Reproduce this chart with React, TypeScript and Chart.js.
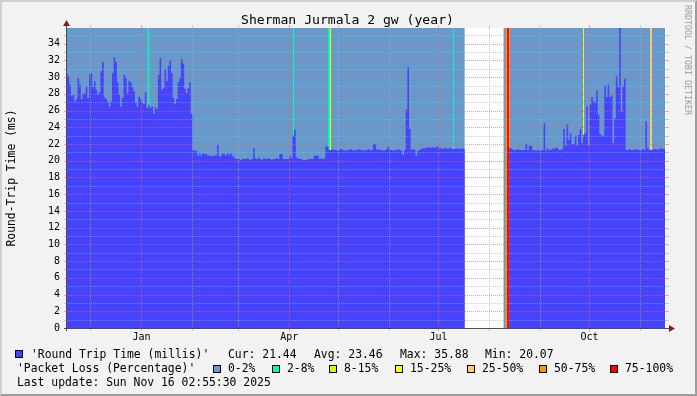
import React, { useEffect, useRef } from "react";
import { Chart, registerables } from "chart.js";

Chart.register(...registerables);

// ---------------- text ----------------
const TITLE = "Sherman Jurmala 2 gw (year)";
const Y_TITLE = "Round-Trip Time (ms)";
const WATERMARK = "RRDTOOL / TOBI OETIKER";
const RTT_LABEL = "'Round Trip Time (millis)'";
const LOSS_LABEL = "'Packet Loss (Percentage)'";
const LAST_UPDATE = "Last update: Sun Nov 16 02:55:30 2025";
const STATS = ["Cur: 21.44", "Avg: 23.46", "Max: 35.88", "Min: 20.07"];

// ---------------- axes ----------------
// x in days since Nov 16 2024
const X_MIN = 0.6;
const X_MAX = 365.6;
const Y_MAX = 35.88;
const MONTH_DAYS = [15, 46, 77, 105, 136, 166, 197, 227, 258, 289, 319, 350];
const MONTH_NAMES = ["Dec", "Jan", "Feb", "Mar", "Apr", "May", "Jun", "Jul", "Aug", "Sep", "Oct", "Nov"];
const LABELLED_MONTHS = ["Jan", "Apr", "Jul", "Oct"];
const Y_TICKS = [0, 2, 4, 6, 8, 10, 12, 14, 16, 18, 20, 22, 24, 26, 28, 30, 32, 34];

// ---------------- data: daily round trip time (ms) ----------------
// days 0..76
const RTT_A = [
  30.4, 30.1, 29.1, 27.7, 27.9, 27.1, 27.4, 29.9, 29.1, 27.4,
  28.0, 28.1, 28.9, 27.5, 30.3, 30.5, 28.8, 29.5, 28.5, 27.9,
  28.2, 30.7, 31.8, 27.6, 27.4, 27.1, 26.5, 27.1, 30.5, 32.4,
  31.8, 29.4, 27.9, 26.5, 27.5, 30.3, 29.9, 28.1, 29.5, 29.4,
  28.8, 28.3, 27.0, 26.5, 27.7, 27.4, 26.9, 26.8, 28.2, 26.3,
  26.7, 26.3, 26.5, 25.6, 26.4, 26.2, 30.3, 32.3, 28.5, 28.7,
  31.0, 29.5, 31.3, 32.0, 30.5, 27.5, 26.8, 27.4, 29.4, 29.9,
  32.2, 31.6, 28.6, 28.1, 28.7, 29.4, 25.6,
];
// days 77..160
const RTT_B = [
  21.3, 21.2, 21.2, 20.6, 20.9, 20.6, 20.9, 20.8, 20.8, 20.6,
  20.7, 20.5, 20.6, 20.6, 20.7, 21.9, 20.5, 20.6, 20.9, 20.8,
  20.6, 20.9, 20.7, 20.9, 20.6, 20.4, 20.2, 20.2, 20.2, 20.1,
  20.2, 20.2, 20.2, 20.3, 20.2, 20.1, 20.2, 21.5, 20.3, 20.2,
  20.4, 20.2, 20.1, 20.3, 20.2, 20.2, 20.3, 20.2, 20.1, 20.2,
  20.2, 20.3, 20.2, 20.8, 20.8, 20.2, 20.2, 20.2, 20.2, 20.6,
  20.3, 23.0, 23.7, 20.4, 20.3, 20.2, 20.2, 20.1, 20.1, 20.1,
  20.2, 20.2, 20.2, 20.2, 20.6, 20.6, 20.6, 20.2, 20.3, 20.2,
  20.3, 21.7, 21.7, 21.3,
];
// days 161..242
const RTT_C = [
  21.3, 21.4, 21.3, 21.3, 21.2, 21.3, 21.4, 21.3, 21.3, 21.2,
  21.3, 21.3, 21.4, 21.3, 21.2, 21.3, 21.3, 21.4, 21.3, 21.3,
  21.2, 21.3, 21.3, 21.4, 21.3, 21.3, 22.0, 22.0, 21.3, 21.4,
  21.3, 21.3, 21.2, 21.3, 21.4, 21.7, 21.3, 21.3, 21.2, 21.3,
  21.3, 21.4, 21.3, 21.2, 20.7, 21.3, 26.1, 31.2, 23.8, 21.3,
  21.4, 21.3, 20.6, 21.2, 21.3, 21.4, 21.5, 21.5, 21.6, 21.6,
  21.6, 21.6, 21.6, 21.6, 21.6, 21.7, 21.5, 21.5, 21.4, 21.5,
  21.5, 21.4, 21.5, 21.5, 21.4, 21.4, 21.4, 21.5, 21.4, 21.4,
  21.5, 21.4,
];
// days 243..269: no data
const RTT_GAP_DAYS = 27;
// days 270..364
const RTT_D = [
  21.5, 21.5, 21.3, 21.3, 21.3, 21.4, 21.3, 21.3, 21.3, 21.3,
  22.0, 21.3, 21.8, 21.8, 21.3, 21.3, 21.2, 21.3, 21.2, 21.3,
  21.3, 24.5, 21.2, 21.5, 21.3, 21.3, 21.5, 21.4, 21.6, 21.5,
  21.3, 21.3, 21.4, 23.8, 21.8, 24.3, 22.5, 23.3, 22.0, 22.0,
  23.0, 21.8, 23.1, 23.8, 22.1, 23.1, 23.3, 26.5, 21.8, 26.7,
  27.6, 27.1, 27.0, 28.4, 25.5, 23.2, 23.0, 23.0, 29.0, 27.6,
  29.1, 27.6, 27.8, 22.1, 25.1, 30.1, 28.8, 35.88, 25.9, 28.9,
  29.8, 21.3, 21.3, 21.4, 21.3, 21.3, 21.3, 21.4, 21.3, 21.3,
  21.3, 21.4, 21.3, 24.7, 21.5, 21.3, 21.3, 21.3, 21.4, 21.4,
  21.3, 21.4, 21.5, 21.4, 21.44,
];

// ---------------- data: packet loss class, as [startDay, endDay] spans ----------------
const LOSS_0_2 = [[0, 243], [266.5, 365]];
const LOSS_2_8 = [[49.6, 50.8], [138.3, 139.1], [159.5, 160.9], [235.8, 236.4]];
const LOSS_8_15: number[][] = [];
const LOSS_15_25 = [[160.9, 161.5], [315.0, 315.6]];
const LOSS_25_50 = [[355.9, 357.1]];
const LOSS_50_75 = [[267.7, 268.7], [269.9, 270.5]];
const LOSS_75_100 = [[268.7, 269.9]];

// ---------------- colours ----------------
const RTT_COLOR = "#4444ff";
const LOSS_CLASSES = [
  { label: "0-2%", color: "#6699cc", spans: LOSS_0_2 },
  { label: "2-8%", color: "#00ffaa", spans: LOSS_2_8 },
  { label: "8-15%", color: "#ccff00", spans: LOSS_8_15 },
  { label: "15-25%", color: "#ffff00", spans: LOSS_15_25 },
  { label: "25-50%", color: "#ffcc66", spans: LOSS_25_50 },
  { label: "50-75%", color: "#ff9900", spans: LOSS_50_75 },
  { label: "75-100%", color: "#ff0000", spans: LOSS_75_100 },
];
const GRID = "rgba(170,170,170,0.6)";
const MGRID = "rgba(255,90,90,0.6)";
const AXIS = "#4d4d4d";
const ARROW = "#7f1f1f";
const FONT = "'DejaVu Sans Mono', monospace";

// ---------------- builders ----------------
function stepPoints(values: (number | null)[], startDay: number) {
  const pts: { x: number; y: number | null }[] = [];
  values.forEach((v, i) => {
    const d = startDay + i;
    pts.push({ x: d, y: v });
    const next = values[i + 1];
    if (v !== null && (next === undefined || next === null)) {
      pts.push({ x: d + 1, y: v });
      pts.push({ x: d + 1, y: null });
    }
  });
  return pts;
}

function spanPoints(spans: number[][]) {
  const pts: { x: number; y: number | null }[] = [];
  spans.forEach(([s, e]) => {
    pts.push({ x: s, y: Y_MAX }, { x: e, y: Y_MAX }, { x: e, y: null });
  });
  return pts;
}

const RTT_ALL: (number | null)[] = [
  ...RTT_A,
  ...RTT_B,
  ...RTT_C,
  ...new Array(RTT_GAP_DAYS).fill(null),
  ...RTT_D,
];

const rrdPlugin = {
  id: "rrdGrid",
  beforeDatasetsDraw(chart: any) {
    const { ctx, chartArea: a } = chart;
    ctx.save();
    ctx.fillStyle = "#ffffff";
    ctx.fillRect(a.left, a.top, a.right - a.left, a.bottom - a.top);
    ctx.restore();
  },
  afterDatasetsDraw(chart: any) {
    const { ctx, chartArea: a } = chart;
    const xs = chart.scales.x;
    const ys = chart.scales.y;
    const seg = (x1: number, y1: number, x2: number, y2: number) => {
      ctx.beginPath();
      ctx.moveTo(x1, y1);
      ctx.lineTo(x2, y2);
      ctx.stroke();
    };
    ctx.save();
    ctx.lineWidth = 1;
    // horizontal grid
    for (let v = 1; v <= Math.floor(Y_MAX); v++) {
      const py = Math.round(ys.getPixelForValue(v)) + 0.5;
      ctx.strokeStyle = v % 2 === 0 ? MGRID : GRID;
      ctx.setLineDash([1, 1]);
      seg(a.left, py, a.right, py);
      ctx.setLineDash([]);
      seg(a.left - 3, py, a.left, py);
      seg(a.right, py, a.right + 3, py);
    }
    // vertical grid
    MONTH_DAYS.forEach((m, i) => {
      const px = Math.floor(xs.getPixelForValue(m)) + 0.5;
      ctx.strokeStyle = LABELLED_MONTHS.includes(MONTH_NAMES[i]) ? MGRID : GRID;
      ctx.setLineDash([1, 1]);
      seg(px, a.top, px, a.bottom);
      ctx.setLineDash([]);
      seg(px, a.top - 3, px, a.top);
      seg(px, a.bottom, px, a.bottom + 3);
    });
    // axes
    ctx.strokeStyle = AXIS;
    const y0 = Math.round(ys.getPixelForValue(0)) + 0.5;
    seg(a.left - 3, y0, a.right + 4, y0);
    const x0 = a.left - 0.5;
    seg(x0, a.bottom + 3, x0, a.top - 4);
    // arrows
    ctx.fillStyle = ARROW;
    ctx.beginPath();
    ctx.moveTo(x0 - 3.5, a.top - 2);
    ctx.lineTo(x0 + 3.5, a.top - 2);
    ctx.lineTo(x0, a.top - 8);
    ctx.closePath();
    ctx.fill();
    ctx.beginPath();
    ctx.moveTo(a.right + 3, y0 - 3.5);
    ctx.lineTo(a.right + 3, y0 + 3.5);
    ctx.lineTo(a.right + 9, y0);
    ctx.closePath();
    ctx.fill();
    ctx.restore();
  },
};

const abs = (extra: React.CSSProperties): React.CSSProperties => ({
  position: "absolute",
  whiteSpace: "nowrap",
  ...extra,
});

const LEG_FONT = 11.4;

function Swatch({ left, top, color }: { left: number; top: number; color: string }) {
  return (
    <div
      style={abs({
        left,
        top,
        width: 8,
        height: 8,
        boxSizing: "border-box",
        border: "1px solid #000",
        background: color,
      })}
    />
  );
}

const LOSS_SWATCH_X = [213, 272, 329, 395, 467, 539, 610];
const STAT_X = [228, 314, 400, 485];

export default function App() {
  const ref = useRef<HTMLCanvasElement>(null);

  useEffect(() => {
    const datasets: any[] = [
      {
        label: "rtt",
        data: stepPoints(RTT_ALL, 0),
        backgroundColor: RTT_COLOR,
        order: 0,
      },
      ...LOSS_CLASSES.map((c, i) => ({
        label: c.label,
        data: spanPoints(c.spans),
        backgroundColor: c.color,
        order: i === 0 ? 2 : 1,
      })),
    ].map((d) => ({
      ...d,
      stepped: true,
      fill: "origin",
      borderColor: "rgba(0,0,0,0)",
      borderWidth: 0,
      pointRadius: 0,
      pointHoverRadius: 0,
      spanGaps: false,
    }));

    const chart = new Chart(ref.current as HTMLCanvasElement, {
      type: "line",
      data: { datasets },
      options: {
        animation: false,
        responsive: false,
        devicePixelRatio: 1,
        events: [],
        layout: { padding: { top: 28, right: 31, bottom: 0, left: 0 } },
        plugins: { legend: { display: false }, tooltip: { enabled: false }, title: { display: false } },
        scales: {
          x: {
            type: "linear",
            min: X_MIN,
            max: X_MAX,
            grid: { display: false, drawTicks: false },
            border: { display: false },
            afterBuildTicks: (s: any) => {
              s.ticks = MONTH_DAYS.map((v) => ({ value: v }));
            },
            afterFit: (s: any) => {
              s.height = 396 - 328;
            },
            ticks: {
              autoSkip: false,
              maxRotation: 0,
              minRotation: 0,
              padding: 3,
              color: "#000",
              font: { family: FONT, size: 10 },
              callback: (v: any) => {
                const n = MONTH_NAMES[MONTH_DAYS.indexOf(Number(v))];
                return LABELLED_MONTHS.includes(n) ? n : "";
              },
            },
          },
          y: {
            type: "linear",
            min: 0,
            max: Y_MAX,
            grid: { display: false, drawTicks: false },
            border: { display: false },
            afterBuildTicks: (s: any) => {
              s.ticks = Y_TICKS.map((v) => ({ value: v }));
            },
            afterFit: (s: any) => {
              s.width = 67;
            },
            ticks: {
              autoSkip: false,
              padding: 7,
              color: "#000",
              font: { family: FONT, size: 10 },
              callback: (v: any) => String(v),
            },
          },
        },
      } as any,
      plugins: [rrdPlugin],
    });
    return () => chart.destroy();
  }, []);

  const legText: React.CSSProperties = { fontSize: LEG_FONT, lineHeight: "12px" };

  return (
    <div
      style={{
        position: "fixed",
        left: 0,
        top: 0,
        width: 697,
        height: 396,
        background: "#f2f2f2",
        overflow: "hidden",
        fontFamily: FONT,
        color: "#000",
      }}
    >
      <canvas
        ref={ref}
        width={697}
        height={396}
        style={{ position: "absolute", left: 0, top: 0, width: 697, height: 396 }}
      />
      <div style={abs({ left: -1, top: 12, width: 697, textAlign: "center", fontSize: 13.1, lineHeight: "15px" })}>
        {TITLE}
      </div>
      <div
        style={abs({
          left: 11,
          top: 178,
          fontSize: LEG_FONT,
          transform: "translate(-50%, -50%) rotate(-90deg)",
        })}
      >
        {Y_TITLE}
      </div>
      <div
        style={abs({
          left: 688,
          top: 60,
          fontSize: 8.3,
          color: "#9a9a9a",
          transform: "translate(-50%, -50%) rotate(90deg)",
        })}
      >
        {WATERMARK}
      </div>

      {/* legend line 1 */}
      <Swatch left={15} top={350} color={RTT_COLOR} />
      <div style={abs({ left: 31, top: 347.6, ...legText })}>{RTT_LABEL}</div>
      {STATS.map((s, i) => (
        <div key={s} style={abs({ left: STAT_X[i], top: 347.6, ...legText })}>
          {s}
        </div>
      ))}

      {/* legend line 2 */}
      <div style={abs({ left: 17, top: 362, ...legText })}>{LOSS_LABEL}</div>
      {LOSS_CLASSES.map((c, i) => (
        <React.Fragment key={c.label}>
          <Swatch left={LOSS_SWATCH_X[i]} top={364.5} color={c.color} />
          <div style={abs({ left: LOSS_SWATCH_X[i] + 15, top: 362, ...legText })}>{c.label}</div>
        </React.Fragment>
      ))}

      {/* legend line 3 */}
      <div style={abs({ left: 17, top: 375.8, ...legText })}>{LAST_UPDATE}</div>

      <div
        style={{
          position: "absolute",
          left: 0,
          top: 0,
          width: 697,
          height: 396,
          boxSizing: "border-box",
          borderTop: "2px solid #cfcfcf",
          borderLeft: "2px solid #cfcfcf",
          borderRight: "2px solid #9e9e9e",
          borderBottom: "2px solid #9e9e9e",
          pointerEvents: "none",
        }}
      />
    </div>
  );
}
